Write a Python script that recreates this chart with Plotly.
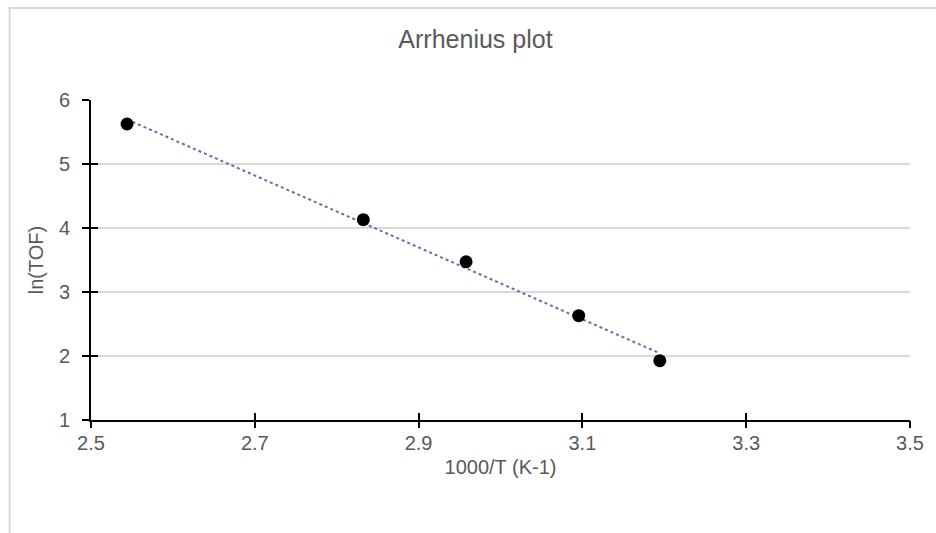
import numpy as np
import plotly.graph_objects as go

inv_T = [2.544, 2.8325, 2.958, 3.0955, 3.1945]
ln_tof = [5.625, 4.13, 3.473, 2.630, 1.927]
x_ticks = [2.5, 2.7, 2.9, 3.1, 3.3, 3.5]
y_ticks = [1, 2, 3, 4, 5, 6]

slope, intercept = np.polyfit(inv_T, ln_tof, 1)
trend_x = [min(inv_T), max(inv_T)]
trend_y = [slope * v + intercept for v in trend_x]

grey = "#595959"
fam = "Liberation Sans, Arial, sans-serif"
fig = go.Figure()
fig.add_trace(go.Scatter(x=trend_x, y=trend_y, mode="lines",
                         line=dict(color="#7e62a8", width=2, dash="dot"),
                         showlegend=False, hoverinfo="skip"))
fig.add_trace(go.Scatter(x=inv_T, y=ln_tof, mode="markers",
                         marker=dict(color="black", size=13),
                         showlegend=False))

fig.update_layout(
    width=936, height=533,
    paper_bgcolor="white", plot_bgcolor="white",
    margin=dict(l=91, r=20, t=100, b=113),
    font=dict(family=fam, color=grey, size=20),
    title=dict(text="Arrhenius plot", x=0.508, xanchor="center", y=0.926, yanchor="middle",
               font=dict(size=25, color=grey, family=fam)),
    xaxis=dict(range=[2.5, 3.5], tickvals=x_ticks, ticktext=[str(v) for v in x_ticks],
               showgrid=False, zeroline=False, showline=True, linecolor="black", linewidth=2,
               ticks="inside", ticklen=7, tickwidth=2, tickcolor="black",
               tickfont=dict(size=20, color=grey, family=fam), ticklabelstandoff=4,
               title=dict(text="1000/T (K-1)", font=dict(size=20, color=grey, family=fam), standoff=7)),
    yaxis=dict(range=[1, 6], tickvals=y_ticks,
               showgrid=True, gridcolor="#d9d9d9", gridwidth=1.5,
               zeroline=False, showline=True, linecolor="black", linewidth=2,
               ticks="outside", ticklen=7, tickwidth=2, tickcolor="black",
               tickfont=dict(size=20, color=grey, family=fam), ticklabelstandoff=8,
               title=dict(text="ln(TOF)", font=dict(size=20, color=grey, family=fam), standoff=10)),
    xaxis2=dict(range=[2.5, 3.5], tickvals=x_ticks, overlaying="x", side="bottom",
                showticklabels=False, showgrid=False, zeroline=False, showline=False,
                ticks="outside", ticklen=7, tickwidth=2, tickcolor="black", anchor="y"),
    yaxis2=dict(range=[1, 6], tickvals=y_ticks, overlaying="y", side="left",
                showticklabels=False, showgrid=False, zeroline=False, showline=False,
                ticks="inside", ticklen=7, tickwidth=2, tickcolor="black", anchor="x"),
)
fig.add_trace(go.Scatter(x=[None], y=[None], xaxis="x2", yaxis="y2", showlegend=False, hoverinfo="skip"))

# light chart border (partially off-canvas, as in the reference)
fig.add_shape(type="rect", xref="paper", yref="paper",
              x0=-82/825, x1=(1040-91)/825, y0=-(600-420)/320, y1=(420-8)/320,
              line=dict(color="#d9d9d9", width=2), fillcolor="rgba(0,0,0,0)", layer="below")

fig.write_html("out.html")
